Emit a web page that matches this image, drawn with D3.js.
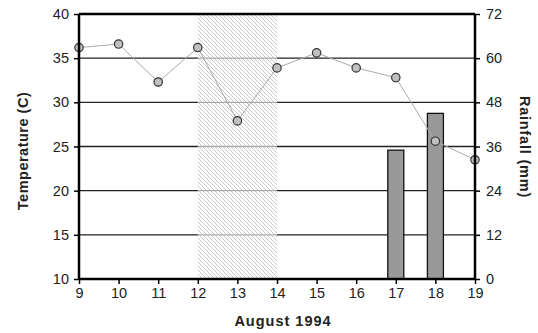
<!DOCTYPE html>
<html><head><meta charset="utf-8">
<script src="https://cdn.jsdelivr.net/npm/d3@7"></script>
<style>body{margin:0;background:#fff}svg{display:block}text{font-family:"Liberation Sans",Arial,sans-serif;fill:#222}</style>
</head><body><svg id="c" width="538" height="333"></svg>
<script>
const days = [9,10,11,12,13,14,15,16,17,18,19];
const temperature = [36.2,36.6,32.3,36.2,27.9,33.9,35.6,33.9,32.8,25.6,23.5];
const rainDays = [17,18];
const rainfall = [35,45];
const tempTicks = [10,15,20,25,30,35,40];
const rainTicks = [0,12,24,36,48,60,72];
const hatchRange = [12,14];

const svg = d3.select("#c");
const L=79,R=475,T=14,B=279;
const x = d3.scaleLinear().domain([9,19]).range([L,R]);
const yT = d3.scaleLinear().domain([10,40]).range([B,T]);
const yR = d3.scaleLinear().domain([0,72]).range([B,T]);

const defs = svg.append("defs");
const pat = defs.append("pattern").attr("id","hatch").attr("patternUnits","userSpaceOnUse").attr("width",4).attr("height",4);
pat.append("rect").attr("width",4).attr("height",4).attr("fill","#fff").attr("fill-opacity",0.6);
pat.append("path").attr("d","M-1,-1 L5,5 M-1,3 L1,5 M3,-1 L5,1").attr("stroke","#bbb").attr("stroke-width",0.8);

// gridlines
svg.append("g").selectAll("line").data(tempTicks.slice(1)).join("line")
  .attr("x1",L).attr("x2",R).attr("y1",d=>yT(d)).attr("y2",d=>yT(d))
  .attr("stroke","#222").attr("stroke-width",1.4);

// hatch
svg.append("rect").attr("x",x(hatchRange[0])).attr("y",T+1).attr("width",x(hatchRange[1])-x(hatchRange[0])).attr("height",B-T-1).attr("fill","url(#hatch)");

// bars
const bw=16;
svg.append("g").selectAll("rect").data(rainDays).join("rect")
  .attr("x",(d)=>x(d)-bw/2).attr("width",bw)
  .attr("y",(d,i)=>yR(rainfall[i])).attr("height",(d,i)=>B-yR(rainfall[i]))
  .attr("fill","#999").attr("stroke","#111").attr("stroke-width",1.3);

// line
const line = d3.line().x((d,i)=>x(days[i])).y(d=>yT(d));
svg.append("path").datum(temperature).attr("d",line).attr("fill","none").attr("stroke","#aaa").attr("stroke-width",1);
svg.append("g").selectAll("circle").data(temperature).join("circle")
  .attr("cx",(d,i)=>x(days[i])).attr("cy",d=>yT(d)).attr("r",4.2)
  .attr("fill","#c0c0c0").attr("stroke","#333").attr("stroke-width",1.2);

// axes
const axL = svg.append("g").attr("transform",`translate(${L},0)`).call(d3.axisLeft(yT).tickValues(tempTicks).tickSize(5).tickPadding(5));
const axR = svg.append("g").attr("transform",`translate(${R},0)`).call(d3.axisRight(yR).tickValues(rainTicks).tickSize(5).tickPadding(6));
const axB = svg.append("g").attr("transform",`translate(0,${B})`).call(d3.axisBottom(x).tickValues(days).tickSize(5).tickPadding(4));
[axL,axR,axB].forEach(a=>{
  a.select(".domain").attr("stroke","#000").attr("stroke-width",2.5);
  a.selectAll(".tick line").attr("stroke","#000").attr("stroke-width",1.5);
  a.selectAll("text").style("font-size","14.5px").attr("fill","#222");
});
axL.select(".domain").attr("d",`M0,${B}V${T}`);
axR.select(".domain").attr("d",`M0,${B}V${T}`);
axB.select(".domain").attr("d",`M${L},0H${R}`);
svg.append("line").attr("x1",L).attr("x2",R).attr("y1",T).attr("y2",T).attr("stroke","#000").attr("stroke-width",2.5);

svg.append("text").attr("transform",`translate(28,151) rotate(-90)`).attr("text-anchor","middle")
  .style("font-size","14.5px").style("font-weight","bold").style("letter-spacing","0.5px").text("Temperature (C)");
svg.append("text").attr("transform",`translate(520,147) rotate(90)`).attr("text-anchor","middle")
  .style("font-size","14.5px").style("font-weight","bold").style("letter-spacing","0.8px").text("Rainfall (mm)");
svg.append("text").attr("x",283).attr("y",326).attr("text-anchor","middle")
  .style("font-size","14.5px").style("font-weight","bold").style("letter-spacing","1px").text("August 1994");
</script></body></html>
